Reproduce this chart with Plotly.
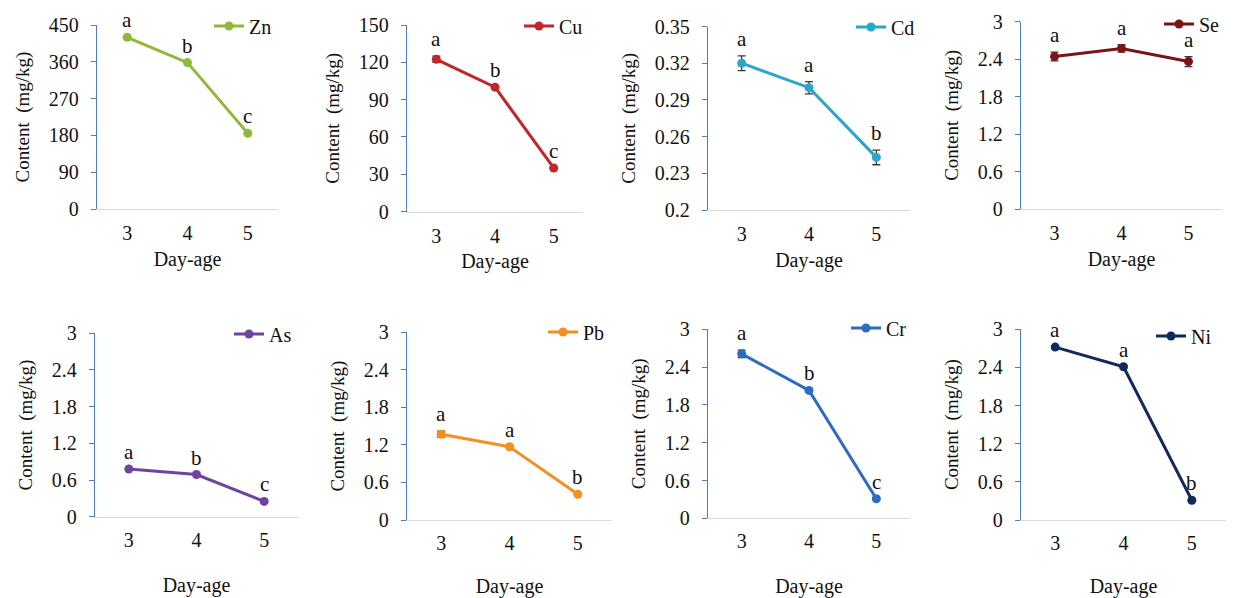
import plotly.graph_objects as go

W, H = 1236, 598
FONT = "Liberation Serif, serif"

day_age = [3, 4, 5]

elements = ["Zn", "Cu", "Cd", "Se", "As", "Pb", "Cr", "Ni"]
zn = [420, 358, 185]
cu = [122.4, 100, 35]
cd = [0.320, 0.300, 0.243]
se = [2.44, 2.57, 2.36]
as_ = [0.78, 0.69, 0.25]
pb = [1.37, 1.17, 0.41]
cr = [2.61, 2.03, 0.31]
ni = [2.72, 2.41, 0.31]

zn_err = [0, 0, 0]
cu_err = [2.5, 0, 0]
cd_err = [0.006, 0.005, 0.006]
se_err = [0.07, 0.06, 0.08]
as_err = [0, 0, 0]
pb_err = [0.05, 0, 0]
cr_err = [0.06, 0, 0]
ni_err = [0, 0, 0]

zn_letters = ["a", "b", "c"]
cu_letters = ["a", "b", "c"]
cd_letters = ["a", "a", "b"]
se_letters = ["a", "a", "a"]
as_letters = ["a", "b", "c"]
pb_letters = ["a", "a", "b"]
cr_letters = ["a", "b", "c"]
ni_letters = ["a", "a", "b"]

zn_ticks = [0, 90, 180, 270, 360, 450]
cu_ticks = [0, 30, 60, 90, 120, 150]
cd_ticks = [0.2, 0.23, 0.26, 0.29, 0.32, 0.35]
std_ticks = [0, 0.6, 1.2, 1.8, 2.4, 3]

values = [zn, cu, cd, se, as_, pb, cr, ni]
errors = [zn_err, cu_err, cd_err, se_err, as_err, pb_err, cr_err, ni_err]
letters = [zn_letters, cu_letters, cd_letters, se_letters,
           as_letters, pb_letters, cr_letters, ni_letters]
ticks = [zn_ticks, cu_ticks, cd_ticks, std_ticks,
         std_ticks, std_ticks, std_ticks, std_ticks]
tick_text = [[str(t) for t in zn_ticks], [str(t) for t in cu_ticks],
             ["0.2", "0.23", "0.26", "0.29", "0.32", "0.35"],
             ["0", "0.6", "1.2", "1.8", "2.4", "3"]] + \
            [["0", "0.6", "1.2", "1.8", "2.4", "3"]] * 4
colors = ["#8DB83A", "#C0262C", "#2BA6CB", "#7A1416",
          "#6E44A0", "#F58F23", "#2D6CBF", "#112A5E"]

# panel boxes in pixels: (left, right, top, bottom)
boxes = [(97, 278, 25, 209), (407, 583, 25, 211.5), (708, 910, 26.5, 210),
         (1021, 1222, 21.5, 209.3),
         (95, 298, 333.3, 516.7), (407, 612, 332.3, 520), (708, 910, 329.3, 518.3),
         (1021, 1226, 329.3, 520)]
# legend anchors (right edge x, center y) in pixels
leg_pos = [(277, 26), (588, 26), (920, 27), (1225, 24),
           (297, 334), (610, 332), (912, 328), (1217, 336)]

fig = go.Figure()
annotations = []
for i in range(8):
    ax = "" if i == 0 else str(i + 1)
    lg = "legend" if i == 0 else f"legend{i + 1}"
    fig.add_trace(go.Scatter(
        x=day_age, y=values[i], name=elements[i],
        mode="lines+markers",
        line=dict(color=colors[i], width=3),
        marker=dict(color=colors[i], size=9),
        error_y=dict(type="data", array=errors[i], visible=True,
                     color="#3a3a3a", thickness=1.3, width=4),
        xaxis="x" + ax, yaxis="y" + ax, legend=lg, cliponaxis=False,
    ))
    l, r, t, b = boxes[i]
    fig.layout["xaxis" + ax] = dict(
        domain=[l / W, r / W], range=[2.5, 5.5], tickvals=day_age,
        showline=True, linecolor="#D9D9D9", linewidth=1, showgrid=False,
        zeroline=False, ticks="", ticklabelstandoff=6 if i < 4 else 5,
        tickfont=dict(family=FONT, size=20, color="#111"),
        title=dict(text="Day-age", font=dict(family=FONT, size=20, color="#111"),
                   standoff=8 if i < 4 else 28),
        anchor="y" + ax, fixedrange=True,
    )
    rng = [ticks[i][0], ticks[i][-1]]
    fig.layout["yaxis" + ax] = dict(
        domain=[1 - b / H, 1 - t / H], range=rng, tickvals=ticks[i],
        ticktext=tick_text[i],
        showline=True, linecolor="#4F7DB8", linewidth=1.3, showgrid=False,
        zeroline=False, ticks="outside", ticklen=5, tickcolor="#4F7DB8",
        ticklabelstandoff=8,
        tickfont=dict(family=FONT, size=20, color="#111"),
        title=dict(text="Content\u00a0\u00a0(mg/kg)",
                   font=dict(family=FONT, size=19, color="#111"), standoff=14),
        anchor="x" + ax, fixedrange=True,
    )
    lx, ly = leg_pos[i]
    fig.layout[lg] = dict(
        x=lx / W, y=1 - ly / H, xanchor="right", yanchor="middle",
        bgcolor="rgba(0,0,0,0)", font=dict(family=FONT, size=20, color="#111"),
        itemwidth=30, tracegroupgap=0,
    )
    for xv, yv, ev, lt in zip(day_age, values[i], errors[i], letters[i]):
        annotations.append(dict(
            x=xv, y=yv + ev, xref="x" + ax, yref="y" + ax, text=lt,
            showarrow=False, yanchor="bottom", yshift=3,
            font=dict(family=FONT, size=21, color="#111"),
        ))

fig.update_layout(
    width=W, height=H, margin=dict(l=0, r=0, t=0, b=0, autoexpand=False),
    paper_bgcolor="white", plot_bgcolor="white",
    font=dict(family=FONT, color="#111"),
    annotations=annotations, showlegend=True,
)
fig.write_html("out.html",
               config={"displayModeBar": False, "staticPlot": True},
               post_script="document.body.style.margin='0px';"
                           "document.body.style.overflow='hidden';")
